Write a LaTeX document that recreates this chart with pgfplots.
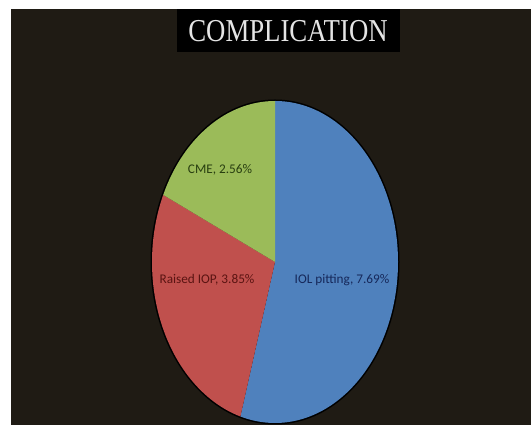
\documentclass[border=0pt]{standalone}
\usepackage{pgfplots}
\usepackage{pgfplotstable}
\usepackage{fontspec}
\pgfplotsset{compat=1.18}
\setmainfont{Carlito}
\newfontfamily\titlefont{Liberation Serif}

\definecolor{bgdark}{RGB}{31,27,20}
\definecolor{sliceblue}{RGB}{79,129,189}
\definecolor{slicered}{RGB}{192,80,77}
\definecolor{slicegreen}{RGB}{155,187,89}
\definecolor{lblblue}{RGB}{22,40,90}
\definecolor{lblred}{RGB}{90,20,18}
\definecolor{lblgreen}{RGB}{40,62,16}

% complication rates (%)
\pgfplotstableread{
label value
IOL 7.69
IOP 3.85
CME 2.56
}\comptable

\pgfplotstablegetelem{0}{value}\of\comptable \let\vIOL\pgfplotsretval
\pgfplotstablegetelem{1}{value}\of\comptable \let\vIOP\pgfplotsretval
\pgfplotstablegetelem{2}{value}\of\comptable \let\vCME\pgfplotsretval
\pgfmathsetmacro\total{\vIOL+\vIOP+\vCME}
% slices run clockwise from 12 o'clock
\pgfmathsetmacro\aA{90}
\pgfmathsetmacro\aB{\aA-360*\vIOL/\total}
\pgfmathsetmacro\aC{\aB-360*\vIOP/\total}
\pgfmathsetmacro\aD{\aC-360*\vCME/\total}

\begin{document}
\begin{tikzpicture}
\begin{axis}[
  scale only axis,
  width=531bp, height=425bp,
  xmin=0, xmax=531, ymin=0, ymax=425,
  hide axis,
  clip=true,
]
% page and dark slide background
\fill[white] (axis cs:0,0) rectangle (axis cs:531,425);
\fill[bgdark] (axis cs:11,-2) rectangle (axis cs:533,416);

% title
\fill[black] (axis cs:177,373) rectangle (axis cs:400,416);
\node[text=white!90!black, inner sep=0pt, xscale=0.84]
  at (axis cs:288,394) {\titlefont\fontsize{32}{32}\selectfont COMPLICATION};

% pie
\fill[black] (axis cs:275,163) ellipse [x radius=124.5bp, y radius=162.5bp];
\fill[sliceblue] (axis cs:275,163) -- ++(\aA:123bp and 161bp)
  arc[start angle=\aA, end angle=\aB, x radius=123bp, y radius=161bp] -- cycle;
\fill[slicered] (axis cs:275,163) -- ++(\aB:123bp and 161bp)
  arc[start angle=\aB, end angle=\aC, x radius=123bp, y radius=161bp] -- cycle;
\fill[slicegreen] (axis cs:275,163) -- ++(\aC:123bp and 161bp)
  arc[start angle=\aC, end angle=\aD, x radius=123bp, y radius=161bp] -- cycle;

% data labels
\node[text=lblblue, font=\fontsize{13.3}{15}\selectfont] at (axis cs:342,145) {IOL pitting, \vIOL\%};
\node[text=lblred, font=\fontsize{13.3}{15}\selectfont] at (axis cs:207,145) {Raised IOP, \vIOP\%};
\node[text=lblgreen, font=\fontsize{13.3}{15}\selectfont] at (axis cs:220,255) {CME, \vCME\%};
\end{axis}
\end{tikzpicture}
\end{document}
